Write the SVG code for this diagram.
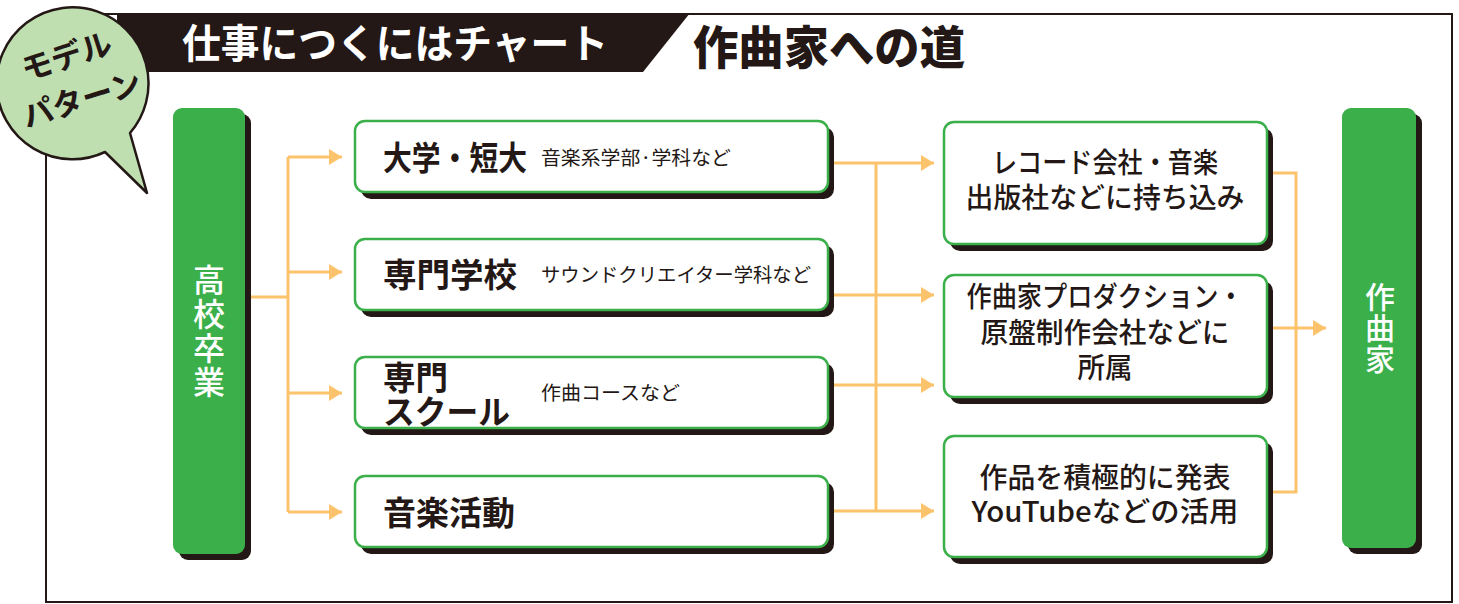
<svg xmlns="http://www.w3.org/2000/svg" width="1459" height="604" viewBox="0 0 1459 604">
<style>
.jp{font-family:"Noto Sans CJK JP","Noto Sans",sans-serif}
.shadow{fill:#231815}
.box{fill:#fff;stroke:#3aaf4a;stroke-width:2.5}
.col{fill:#3aaf4a}
.main{font-size:33px;font-weight:700;fill:#231815}
.desc{font-size:19.5px;font-weight:400;fill:#231815}
.rt{font-size:28px;font-weight:500;fill:#231815;text-anchor:middle}
.vt{font-weight:500;fill:#fff;text-anchor:middle;writing-mode:vertical-rl}
.ln{fill:none;stroke:#fcc36d;stroke-width:3}
</style>
<defs>
<marker id="ah" markerWidth="14" markerHeight="16" refX="13" refY="8" orient="auto" markerUnits="userSpaceOnUse">
<path d="M0,0 L13,8 L0,16 Z" fill="#fcc36d"/>
</marker>
</defs>
<rect width="1459" height="604" fill="#fff"/>
<rect x="46" y="14" width="1406" height="588" fill="none" stroke="#231815" stroke-width="2"/>
<g id="header">
<path d="M117,13 L690,13 L643,72 L117,72 Z" fill="#231815"/>
<text x="182" y="58" class="jp" font-size="40" font-weight="700" fill="#fff" textLength="426" lengthAdjust="spacingAndGlyphs">仕事につくにはチャート</text>
<text x="693" y="64" class="jp" font-size="46" font-weight="900" fill="#231815" textLength="272" lengthAdjust="spacingAndGlyphs">作曲家への道</text>
</g>
<g id="bubble">
<path d="M130,133 A76,76 0 1 0 105,152 L147,193 Z" fill="#bfdfb0" stroke="#231815" stroke-width="2.5" stroke-linejoin="round"/>
<text class="jp" font-size="31" font-weight="700" fill="#231815" text-anchor="middle" transform="translate(70,67) rotate(-18)">モデル</text>
<text class="jp" font-size="31" font-weight="700" fill="#231815" text-anchor="middle" transform="translate(85,110) rotate(-17)">パターン</text>
</g>
<g id="connectors">
<path class="ln" d="M250,297 H288"/>
<path class="ln" d="M288,157 V512"/>
<path class="ln" d="M288,157 H342" marker-end="url(#ah)"/>
<path class="ln" d="M288,272 H342" marker-end="url(#ah)"/>
<path class="ln" d="M288,393 H342" marker-end="url(#ah)"/>
<path class="ln" d="M288,512 H342" marker-end="url(#ah)"/>
<path class="ln" d="M834,163 H876"/>
<path class="ln" d="M834,295 H876"/>
<path class="ln" d="M834,385 H876"/>
<path class="ln" d="M834,511 H876"/>
<path class="ln" d="M876,163 V511"/>
<path class="ln" d="M876,163 H934" marker-end="url(#ah)"/>
<path class="ln" d="M876,295 H934" marker-end="url(#ah)"/>
<path class="ln" d="M876,385 H934" marker-end="url(#ah)"/>
<path class="ln" d="M876,511 H934" marker-end="url(#ah)"/>
<path class="ln" d="M1271,173 H1296 V492 H1271"/>
<path class="ln" d="M1271,328 H1326" marker-end="url(#ah)"/>
</g>
<g id="n-koukou">
<rect x="179" y="114" width="72" height="446" rx="9" class="shadow"/>
<rect x="173" y="108" width="72" height="446" rx="9" class="col"/>
<text class="jp vt" x="209" y="332" font-size="32" letter-spacing="2">高校卒業</text>
</g>
<g id="n-daigaku">
<rect x="361" y="127" width="473" height="72" rx="10" class="shadow"/>
<rect x="355" y="121" width="473" height="71" rx="10" class="box"/>
<text class="jp main" x="383" y="170" textLength="144" lengthAdjust="spacingAndGlyphs">大学・短大</text>
<text class="jp desc" x="541" y="165" textLength="190" lengthAdjust="spacingAndGlyphs">音楽系学部·学科など</text>
</g>
<g id="n-senmon">
<rect x="361" y="245" width="473" height="72" rx="10" class="shadow"/>
<rect x="355" y="239" width="473" height="71" rx="10" class="box"/>
<text class="jp main" x="383" y="287" textLength="134" lengthAdjust="spacingAndGlyphs">専門学校</text>
<text class="jp desc" x="541" y="282" textLength="270" lengthAdjust="spacingAndGlyphs">サウンドクリエイター学科など</text>
</g>
<g id="n-school">
<rect x="361" y="363" width="473" height="72" rx="10" class="shadow"/>
<rect x="355" y="357" width="473" height="71" rx="10" class="box"/>
<text class="jp main"><tspan x="383" y="390" textLength="65" lengthAdjust="spacingAndGlyphs">専門</tspan><tspan x="383" y="424" textLength="127" lengthAdjust="spacingAndGlyphs">スクール</tspan></text>
<text class="jp desc" x="541" y="400" textLength="139" lengthAdjust="spacingAndGlyphs">作曲コースなど</text>
</g>
<g id="n-ongaku">
<rect x="361" y="482" width="473" height="72" rx="10" class="shadow"/>
<rect x="355" y="476" width="473" height="71" rx="10" class="box"/>
<text class="jp main" x="383" y="525" textLength="132" lengthAdjust="spacingAndGlyphs">音楽活動</text>
</g>
<g id="n-record">
<rect x="950" y="128" width="323" height="123" rx="10" class="shadow"/>
<rect x="944" y="122" width="323" height="122" rx="10" class="box"/>
<text class="jp rt"><tspan x="1105" y="173" textLength="226" lengthAdjust="spacingAndGlyphs">レコード会社・音楽</tspan><tspan x="1105" y="208" textLength="279" lengthAdjust="spacingAndGlyphs">出版社などに持ち込み</tspan></text>
</g>
<g id="n-pro">
<rect x="950" y="281" width="323" height="123" rx="10" class="shadow"/>
<rect x="944" y="275" width="323" height="122" rx="10" class="box"/>
<text class="jp rt"><tspan x="1105" y="307" textLength="277" lengthAdjust="spacingAndGlyphs">作曲家プロダクション・</tspan><tspan x="1105" y="343" textLength="249" lengthAdjust="spacingAndGlyphs">原盤制作会社などに</tspan><tspan x="1105" y="378" textLength="55" lengthAdjust="spacingAndGlyphs">所属</tspan></text>
</g>
<g id="n-youtube">
<rect x="950" y="442" width="323" height="122" rx="10" class="shadow"/>
<rect x="944" y="436" width="323" height="121" rx="10" class="box"/>
<text class="jp rt"><tspan x="1105" y="488" textLength="251" lengthAdjust="spacingAndGlyphs">作品を積極的に発表</tspan><tspan x="1105" y="522" textLength="267" lengthAdjust="spacingAndGlyphs">YouTubeなどの活用</tspan></text>
</g>
<g id="n-sakkyokuka">
<rect x="1348" y="114" width="74" height="440" rx="9" class="shadow"/>
<rect x="1342" y="108" width="74" height="440" rx="9" class="col"/>
<text class="jp vt" x="1380" y="328" font-size="30" letter-spacing="1">作曲家</text>
</g>
</svg>
